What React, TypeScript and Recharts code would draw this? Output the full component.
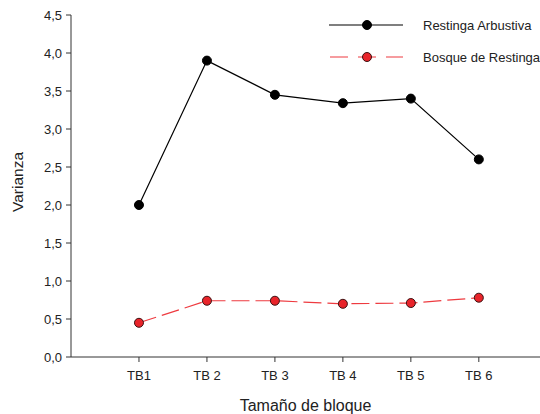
import React from 'react';
import {
    LineChart,
    Line,
    XAxis,
    YAxis
} from 'recharts';

const categories = ['TB1', 'TB 2', 'TB 3', 'TB 4', 'TB 5', 'TB 6'];
const restingaArbustiva = [2.0, 3.9, 3.45, 3.34, 3.4, 2.6];
const bosqueRestinga = [0.45, 0.74, 0.74, 0.7, 0.71, 0.78];
const yTicks = [0, 0.5, 1, 1.5, 2, 2.5, 3, 3.5, 4, 4.5];
const xTicks = [1, 2, 3, 4, 5, 6];

const data = categories.map((label, i) => ({
    x: i + 1,
    label,
    ra: restingaArbustiva[i],
    br: bosqueRestinga[i]
}));

const series = [
    { key: 'ra', name: 'Restinga Arbustiva', stroke: '#000000', dash: undefined, fill: '#000000', dotStroke: '#000000' },
    { key: 'br', name: 'Bosque de Restinga', stroke: '#ee3b40', dash: '18 6', fill: '#e8242a', dotStroke: '#3a1212' }
];

const font = '"Liberation Sans", Arial, sans-serif';
const axisColor = '#333333';

// legend drawn as an overlay so it doesn't eat into the plot area
const ChartLegend = () => (
    <svg width={220} height={75} style={{ position: 'absolute', left: 320, top: 0 }}>
        {series.map((s, i) => {
            const y = 25 + i * 32;
            return (
                <g key={s.key}>
                    <line x1={9} x2={83} y1={y} y2={y} stroke={s.stroke} strokeWidth={1.2}
                        strokeDasharray={s.dash ? '18 10' : undefined} strokeDashoffset={s.dash ? -1 : 0} />
                    <circle cx={47} cy={y} r={4.5} fill={s.fill} stroke={s.dotStroke} strokeWidth={1} />
                    <text x={103} y={y} dominantBaseline="central" fontFamily={font} fontSize={13} fill="#222">
                        {s.name}
                    </text>
                </g>
            );
        })}
    </svg>
);

const YLabel = ({ viewBox }: any) => (
    <text
        x={17}
        y={viewBox.y + viewBox.height / 2 - 4}
        transform={`rotate(-90, 17, ${viewBox.y + viewBox.height / 2 - 4})`}
        textAnchor="middle"
        dominantBaseline="central"
        fontFamily={font}
        fontSize={15.5}
        fill="#222"
    >
        Varianza
    </text>
);

export default function App() {
    return (
        <div style={{ position: 'absolute', left: 0, top: 0, width: 540, height: 414, background: '#fff' }}>
            <LineChart width={540} height={414} data={data} margin={{ top: 15, right: 0, left: 0, bottom: 0 }}>
                <XAxis
                    dataKey="x"
                    type="number"
                    domain={[0, 6.9]}
                    allowDataOverflow
                    ticks={xTicks}
                    tickFormatter={(v: number) => categories[v - 1]}
                    height={57}
                    stroke={axisColor}
                    tickSize={5}
                    tickMargin={9}
                    tick={{ fill: '#222', fontSize: 13, fontFamily: font }}
                    label={{ value: 'Tamaño de bloque', position: 'insideBottom', offset: 3, fill: '#222', fontSize: 16, fontFamily: font }}
                />
                <YAxis
                    type="number"
                    domain={[0, 4.5]}
                    ticks={yTicks}
                    width={71}
                    stroke={axisColor}
                    tickSize={5}
                    tickMargin={4}
                    interval={0}
                    tickFormatter={(v: number) => v.toFixed(1).replace('.', ',')}
                    tick={{ fill: '#222', fontSize: 13, fontFamily: font }}
                    label={<YLabel />}
                />
                {series.map((s) => (
                    <Line
                        key={s.key}
                        dataKey={s.key}
                        name={s.name}
                        type="linear"
                        stroke={s.stroke}
                        strokeWidth={1.2}
                        strokeDasharray={s.dash}
                        dot={{ r: 4.5, fill: s.fill, stroke: s.dotStroke, strokeWidth: 1, strokeDasharray: '' }}
                        activeDot={false}
                        isAnimationActive={false}
                    />
                ))}
            </LineChart>
            <ChartLegend />
        </div>
    );
}
